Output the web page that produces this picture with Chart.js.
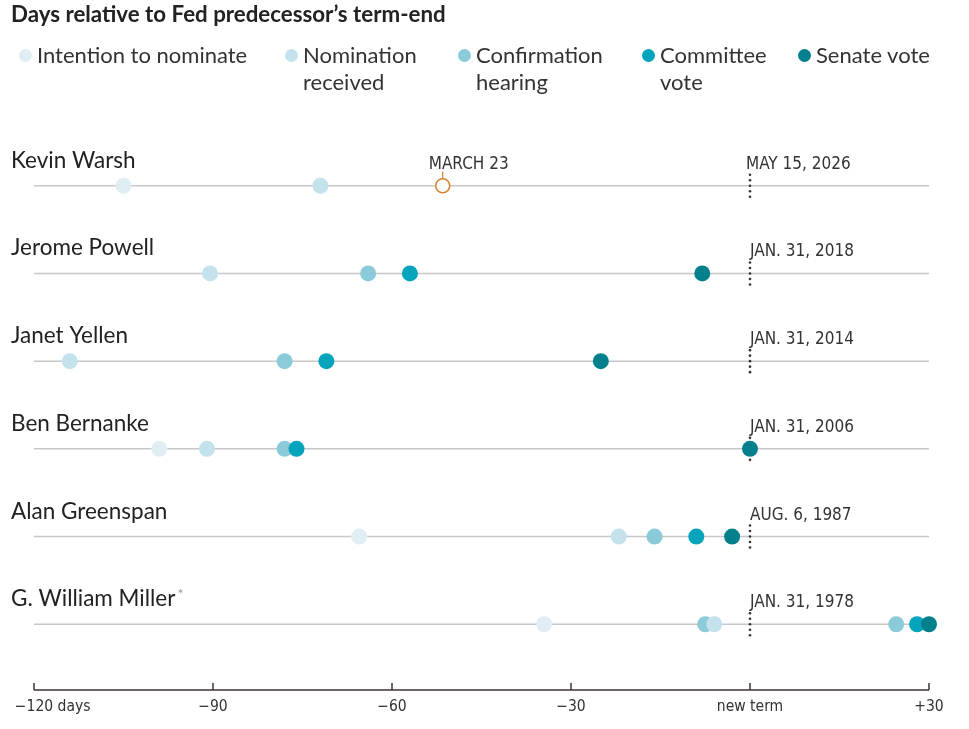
<!DOCTYPE html>
<html>
<head>
<meta charset="utf-8">
<script src="https://cdn.jsdelivr.net/npm/chart.js@4.4.1/dist/chart.umd.min.js"></script>
<style>
  html, body { margin: 0; padding: 0; background: #fff; }
  #wrap { position: relative; width: 969px; height: 729px; overflow: hidden; }
  #title { position: absolute; left: 11px; top: 0px; font: bold 22.3px Lato, sans-serif; color: #222; }
  .leg { position: absolute; top: 41px; font: 22px Lato, sans-serif; color: #333; line-height: 27px; }
  .leg i { position: absolute; left: -18px; top: 8px; width: 13px; height: 13px; border-radius: 50%; }
  canvas { position: absolute; left: 0; top: 0; }
</style>
</head>
<body>
<div id="wrap">
  <canvas id="chart" width="969" height="729"></canvas>
  <div id="title">Days relative to Fed predecessor’s term-end</div>
  <div id="legend"></div>
</div>
<script>
const people = ["Kevin Warsh", "Jerome Powell", "Janet Yellen", "Ben Bernanke", "Alan Greenspan", "G. William Miller"];
const termDates = ["MAY 15, 2026", "JAN. 31, 2018", "JAN. 31, 2014", "JAN. 31, 2006", "AUG. 6, 1987", "JAN. 31, 1978"];

// days relative to predecessor's term-end, one entry per person
const intention  = [-105, null, null, -99, -65.5, -34.5];
const nomination = [-72, -90.5, -114, -91, -22, -6];
const hearing    = [null, -64, -78, -78, -16, -7.5];
const hearing2   = [null, null, null, null, null, 24.5];
const committee  = [null, -57, -71, -76, -9, 28];
const senate     = [null, -8, -25, 0, -3, 30];
const upcoming   = [-51.5, null, null, null, null, null];
const upcomingLabel = "MARCH 23";

const xTicks = [-120, -90, -60, -30, 0, 30];
const xTickLabels = ["−120 days", "−90", "−60", "−30", "new term", "+30"];

const stageNames = ["Intention to nominate", "Nomination\nreceived", "Confirmation\nhearing", "Committee\nvote", "Senate vote"];
const stageColors = ["#e0eef4", "#c3e2ec", "#8bcad8", "#03a4bc", "#03808b"];
const legendX = [37, 303, 476, 660, 816];

const legend = document.getElementById("legend");
stageNames.forEach((name, i) => {
    const d = document.createElement("div");
    d.className = "leg";
    d.style.left = legendX[i] + "px";
    d.innerHTML = `<i style="background:${stageColors[i]}"></i>` + name.replace("\n", "<br>");
    legend.appendChild(d);
});

function toPoints(arr) {
    const pts = [];
    arr.forEach((v, i) => { if (v !== null) pts.push({ x: v, y: i }); });
    return pts;
}

function stageSet(arr, color, order) {
    return {
        data: toPoints(arr),
        backgroundColor: color,
        borderWidth: 0,
        pointRadius: 8,
        pointHoverRadius: 8,
        order: order,
        clip: false
    };
}

const NARROW = '"Liberation Sans Narrow", "DejaVu Sans Condensed", sans-serif';

const rowsPlugin = {
    id: "rows",
    beforeDatasetsDraw(chart) {
        const { ctx, chartArea, scales: { x, y } } = chart;
        ctx.save();
        // row lines
        ctx.strokeStyle = "#c8c8c8";
        ctx.lineWidth = 1.5;
        people.forEach((p, i) => {
            const py = y.getPixelForValue(i);
            ctx.beginPath();
            ctx.moveTo(chartArea.left, py);
            ctx.lineTo(chartArea.right, py);
            ctx.stroke();
        });
        // dotted term-end markers
        const x0 = x.getPixelForValue(0);
        ctx.fillStyle = "#333";
        people.forEach((p, i) => {
            const py = y.getPixelForValue(i);
            [-11, -5.5, 0, 5.5, 11].forEach(o => {
                ctx.beginPath();
                ctx.arc(x0, py + o, 1.3, 0, Math.PI * 2);
                ctx.fill();
            });
        });
        // names and dates
        ctx.textBaseline = "alphabetic";
        people.forEach((p, i) => {
            const py = y.getPixelForValue(i);
            ctx.fillStyle = "#222";
            ctx.font = "22.5px Lato, sans-serif";
            ctx.textAlign = "left";
            ctx.fillText(p, 11, py - 18);
            if (p.startsWith("G. William")) {
                const w = ctx.measureText(p).width;
                ctx.fillStyle = "#999";
                ctx.font = "14px Lato, sans-serif";
                ctx.fillText("*", 11 + w + 2, py - 25);
            }
            ctx.fillStyle = "#333";
            ctx.font = "17px " + NARROW;
            ctx.fillText(termDates[i], x0 - (i === 0 ? 4 : 0), py - 17);
        });
        // upcoming annotation
        upcoming.forEach((v, i) => {
            if (v === null) return;
            const px = x.getPixelForValue(v), py = y.getPixelForValue(i);
            ctx.fillStyle = "#333";
            ctx.font = "17px " + NARROW;
            ctx.fillText(upcomingLabel, px - 14, py - 17);
            ctx.strokeStyle = "#d9822b";
            ctx.lineWidth = 1.2;
            ctx.beginPath();
            ctx.moveTo(px, py - 14);
            ctx.lineTo(px, py - 7);
            ctx.stroke();
        });
        // x axis
        const ay = chartArea.bottom;
        ctx.strokeStyle = "#3b3431";
        ctx.lineWidth = 1.5;
        ctx.beginPath();
        ctx.moveTo(x.getPixelForValue(-120), ay);
        ctx.lineTo(x.getPixelForValue(30), ay);
        ctx.stroke();
        ctx.font = "15.5px " + NARROW;
        ctx.fillStyle = "#333";
        ctx.textBaseline = "top";
        xTicks.forEach((t, i) => {
            const px = x.getPixelForValue(t);
            ctx.beginPath();
            ctx.moveTo(px, ay - 7);
            ctx.lineTo(px, ay);
            ctx.stroke();
            if (i === 0) {
                const numW = ctx.measureText("−120").width;
                ctx.textAlign = "left";
                ctx.fillText(xTickLabels[i], px - numW / 2, ay + 9);
            } else {
                ctx.textAlign = "center";
                ctx.fillText(xTickLabels[i], px, ay + 9);
            }
        });
        ctx.restore();
    }
};

new Chart(document.getElementById("chart"), {
    type: "scatter",
    data: {
        datasets: [
            stageSet(intention, stageColors[0], 6),
            stageSet(hearing, stageColors[2], 5),
            stageSet(hearing2, stageColors[2], 5),
            stageSet(nomination, stageColors[1], 4),
            stageSet(committee, stageColors[3], 3),
            stageSet(senate, stageColors[4], 2),
            {
                data: toPoints(upcoming),
                backgroundColor: "#fff",
                borderColor: "#d9822b",
                borderWidth: 1.5,
                pointRadius: 7,
                pointHoverRadius: 7,
                order: 1,
                clip: false
            }
        ]
    },
    options: {
        responsive: false,
        animation: false,
        events: [],
        layout: { padding: { left: 34, right: 40, top: 120, bottom: 39 } },
        scales: {
            x: { type: "linear", min: -120, max: 30, display: false },
            y: { type: "linear", min: -0.75, max: 5.75, reverse: true, display: false }
        },
        plugins: { legend: { display: false }, tooltip: { enabled: false } }
    },
    plugins: [rowsPlugin]
});
</script>
</body>
</html>
